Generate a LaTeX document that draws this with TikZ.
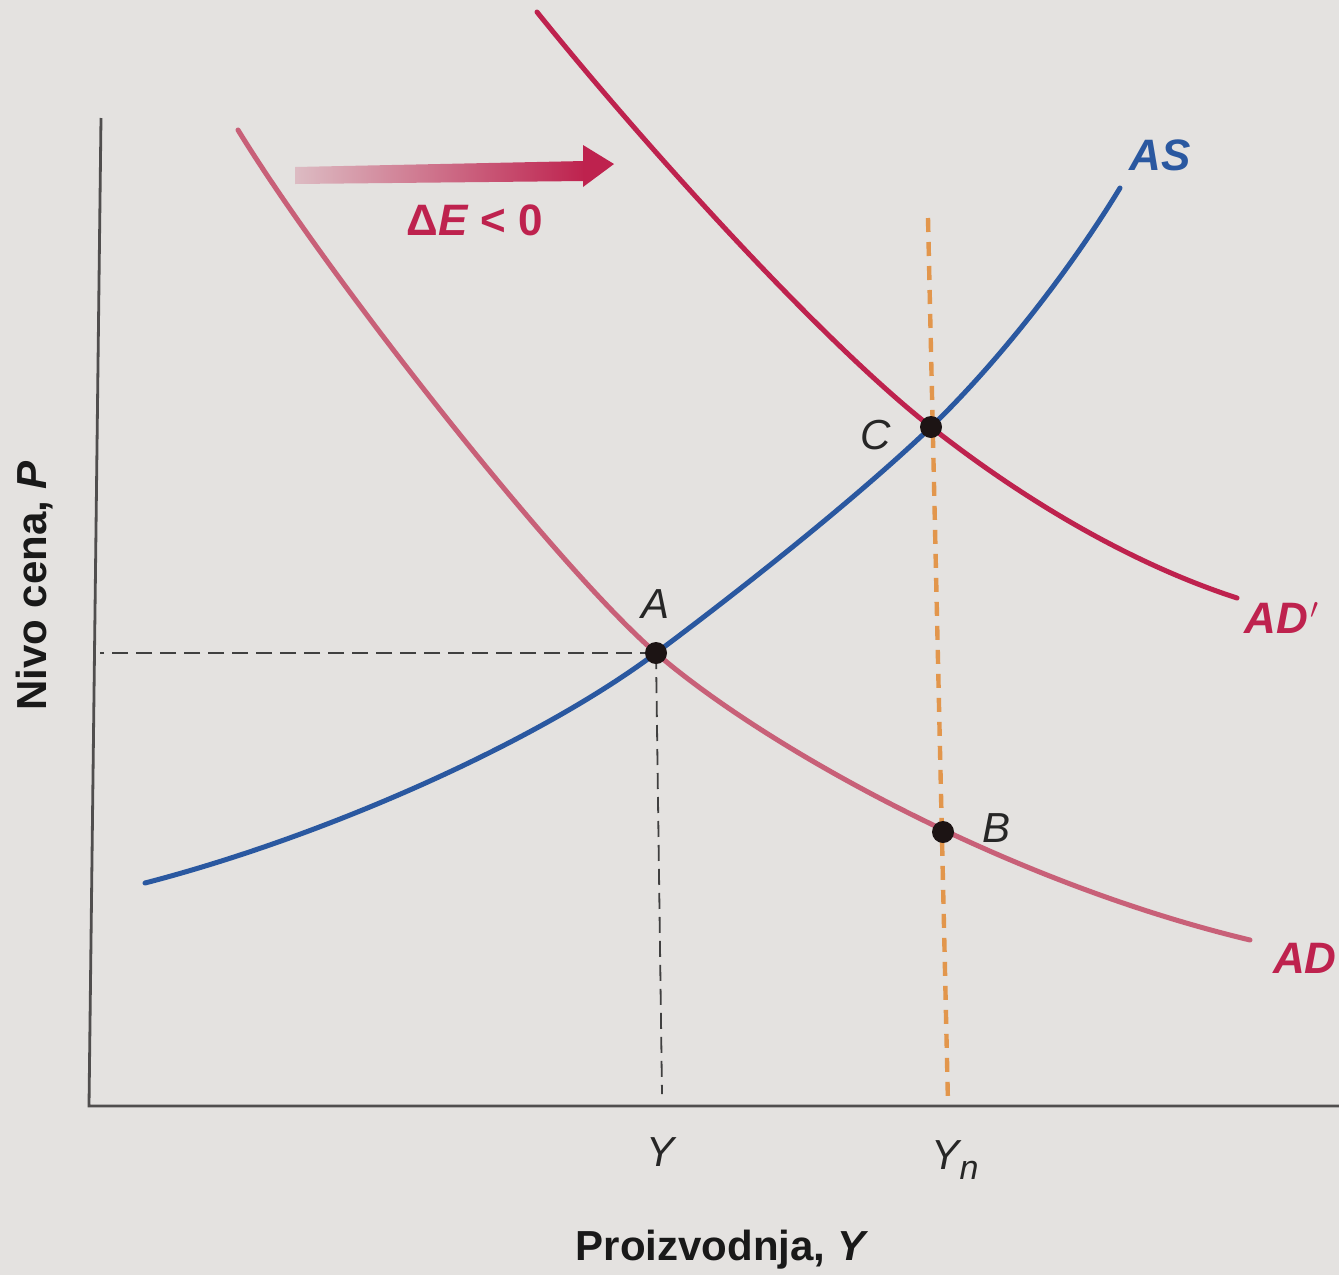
\documentclass[tikz,border=0pt]{standalone}
\usepackage{fontspec}
\setmainfont{Liberation Sans}
\usetikzlibrary{arrows.meta}
\definecolor{bg}{RGB}{228,226,224}
\definecolor{asblue}{RGB}{42,88,160}
\definecolor{crim}{RGB}{190,34,78}
\definecolor{adpink}{RGB}{200,96,120}
\definecolor{orng}{RGB}{226,150,76}
\definecolor{axisc}{RGB}{80,78,78}
\definecolor{dotc}{RGB}{28,20,20}
\tikzset{
  curve/.style={line width=2.5pt, line cap=round},
  axisline/.style={line width=1.4pt, draw=axisc},
  guide/.style={line width=0.9pt, draw=black!75, dash pattern=on 8pt off 4pt},
  orangeguide/.style={line width=2.2pt, draw=orng, dash pattern=on 7pt off 5pt},
  dot/.style={circle, fill=dotc, inner sep=0pt, minimum size=11pt},
  ptlabel/.style={font=\fontsize{21}{24}\selectfont\itshape, text=black!85},
  crvlabel/.style={font=\fontsize{22}{26}\selectfont\bfseries\itshape},
  axlabel/.style={font=\fontsize{21}{25}\selectfont\bfseries, text=black!90}
}
\begin{document}
\begin{tikzpicture}[x=0.5pt,y=-0.5pt]
\fill[bg] (0,0) rectangle (1339,1275);
\useasboundingbox (0,0) rectangle (1339,1275);
% axes
\coordinate (ytop) at (101,118);
\coordinate (orig) at (89,1106);
\coordinate (xend) at (1339,1106);
\draw[axisline] (ytop) -- (orig) -- (xend);
% key points
\coordinate (A) at (656,653);
\coordinate (B) at (943,832);
\coordinate (C) at (931,427);
\coordinate (Ay) at (100,653);
\coordinate (Ax) at (662,1094);
\coordinate (Ot) at (928,218);
\coordinate (Ob) at (948,1104);
\coordinate (ADs) at (238,130);
\coordinate (ADe) at (1250,940);
\coordinate (ADps) at (537,12);
\coordinate (ADpe) at (1237,598);
\coordinate (ASs) at (145,883);
\coordinate (ASe) at (1120,188);
% guides
\draw[guide] (A) -- (Ay);
\draw[guide] (A) -- (Ax);
\draw[orangeguide] (Ot) -- (Ob);
% AD
\draw[curve, adpink] (ADs) .. controls (330,280) and (560,570) .. (A)
  .. controls (760,743) and (1000,880) .. (ADe);
% AD'
\draw[curve, crim] (ADps) .. controls (640,140) and (820,340) .. (C)
  .. controls (1011,490) and (1120,560) .. (ADpe);
% AS
\draw[curve, asblue] (ASs) .. controls (330,835) and (540,740) .. (A)
  .. controls (750,583) and (862,493) .. (C)
  .. controls (1000,360) and (1070,270) .. (ASe);
% dots
\node[dot] (dA) at (A) {};
\node[dot] (dB) at (B) {};
\node[dot] (dC) at (C) {};
% labels
\node[ptlabel] (lA) at (656,604) {A};
\node[ptlabel] (lB) at (996,828) {B};
\node[ptlabel] (lC) at (876,435) {C};
\node[crvlabel, text=asblue] (lAS) at (1160,155) {AS};
\node[crvlabel, text=crim] (lADp) at (1282,618) {AD\kern1pt$'$};
\node[crvlabel, text=crim, anchor=west] (lAD) at (1266,958) {AD};
% arrow
\shade[left color=crim!20!bg, right color=crim, shading angle=90] (295,167) -- (585,161) -- (585,181) -- (295,184) -- cycle;
\fill[crim] (583,145) -- (614,164) -- (583,187) -- cycle;
\node[font=\fontsize{22}{26}\selectfont\bfseries, text=crim] (dE) at (475,220) {Δ\textit{E} < 0};
% axis labels
\node[ptlabel] (lY) at (660,1152) {Y};
\node[ptlabel] (lYn) at (955,1160) {Y\raisebox{-0.45ex}{\fontsize{17}{20}\selectfont\itshape n}};
\node[axlabel] (xl) at (722,1250) {Proizvodnja, \textit{Y}};
\node[axlabel, rotate=90] (yl) at (35,586) {Nivo cena, \textit{P}};
\end{tikzpicture}
\end{document}
